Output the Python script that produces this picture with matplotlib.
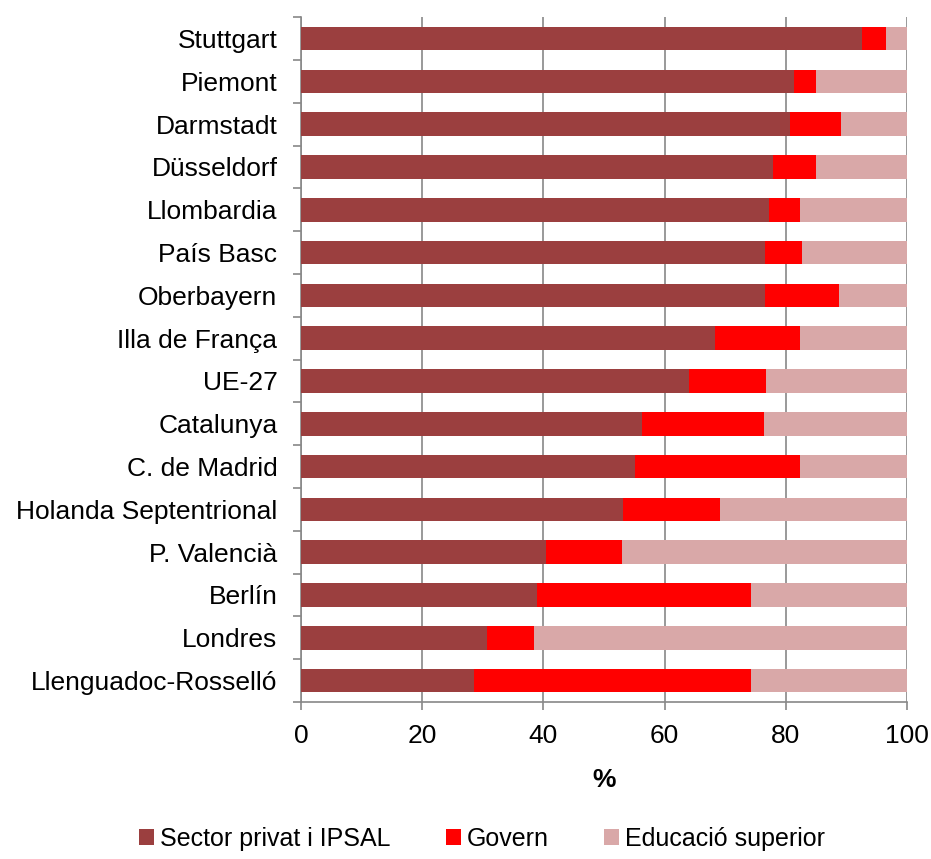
import numpy as np
import matplotlib.pyplot as plt

regions = ['Stuttgart', 'Piemont', 'Darmstadt', 'Düsseldorf', 'Llombardia', 'País Basc',
           'Oberbayern', 'Illa de França', 'UE-27', 'Catalunya', 'C. de Madrid',
           'Holanda Septentrional', 'P. Valencià', 'Berlín', 'Londres', 'Llenguadoc-Rosselló']
privat = [92.6, 81.3, 80.7, 77.9, 77.3, 76.5, 76.5, 68.3, 64.1, 56.2, 55.1, 53.1, 40.5, 39.0, 30.7, 28.5]
govern = [3.9, 3.7, 8.4, 7.1, 5.1, 6.2, 12.2, 14.0, 12.6, 20.2, 27.2, 16.0, 12.4, 35.2, 7.8, 45.7]
superior = [100 - p - g for p, g in zip(privat, govern)]

plt.rcParams['font.family'] = ['Liberation Sans', 'DejaVu Sans']

fig = plt.figure(figsize=(9.31, 8.59), dpi=100)
ax = fig.add_axes([0.3233, 0.1828, 0.6509, 0.7972])

y = np.arange(len(regions))
h = 0.55
c1, c2, c3 = '#9b3f3f', '#ff0000', '#d9a8a8'
ax.barh(y, privat, h, color=c1, label='Sector privat i IPSAL', zorder=3)
ax.barh(y, govern, h, left=privat, color=c2, label='Govern', zorder=3)
ax.barh(y, superior, h, left=np.array(privat) + np.array(govern), color=c3,
        label='Educació superior', zorder=3)

ax.set_xlim(0, 100)
ax.set_ylim(len(regions) - 0.5, -0.5)
ax.set_yticks(y)
ax.set_yticklabels(regions, fontsize=19)
ax.set_yticks(np.arange(-0.5, len(regions), 1), minor=True)
ax.tick_params(axis='y', which='major', length=0, pad=17)
ax.tick_params(axis='y', which='minor', length=6, color='#888888', width=1.2)
ax.set_xticks([0, 20, 40, 60, 80, 100])
ax.tick_params(axis='x', labelsize=19, length=6, color='#888888', width=1.2, pad=10)
ax.set_xlabel('%', fontsize=19, fontweight='bold', labelpad=14)

ax.grid(axis='x', color='#888888', linewidth=1.2, zorder=0)
for s in ['top', 'right']:
    ax.spines[s].set_visible(False)
for s in ['left', 'bottom']:
    ax.spines[s].set_color('#888888')
    ax.spines[s].set_linewidth(1.2)

fig.legend(loc='lower center', bbox_to_anchor=(0.518, -0.017), ncol=3, frameon=False,
           fontsize=18, handlelength=0.6, handleheight=0.6, handletextpad=0.25,
           columnspacing=2.2)

fig.savefig('out.png', dpi=100)
